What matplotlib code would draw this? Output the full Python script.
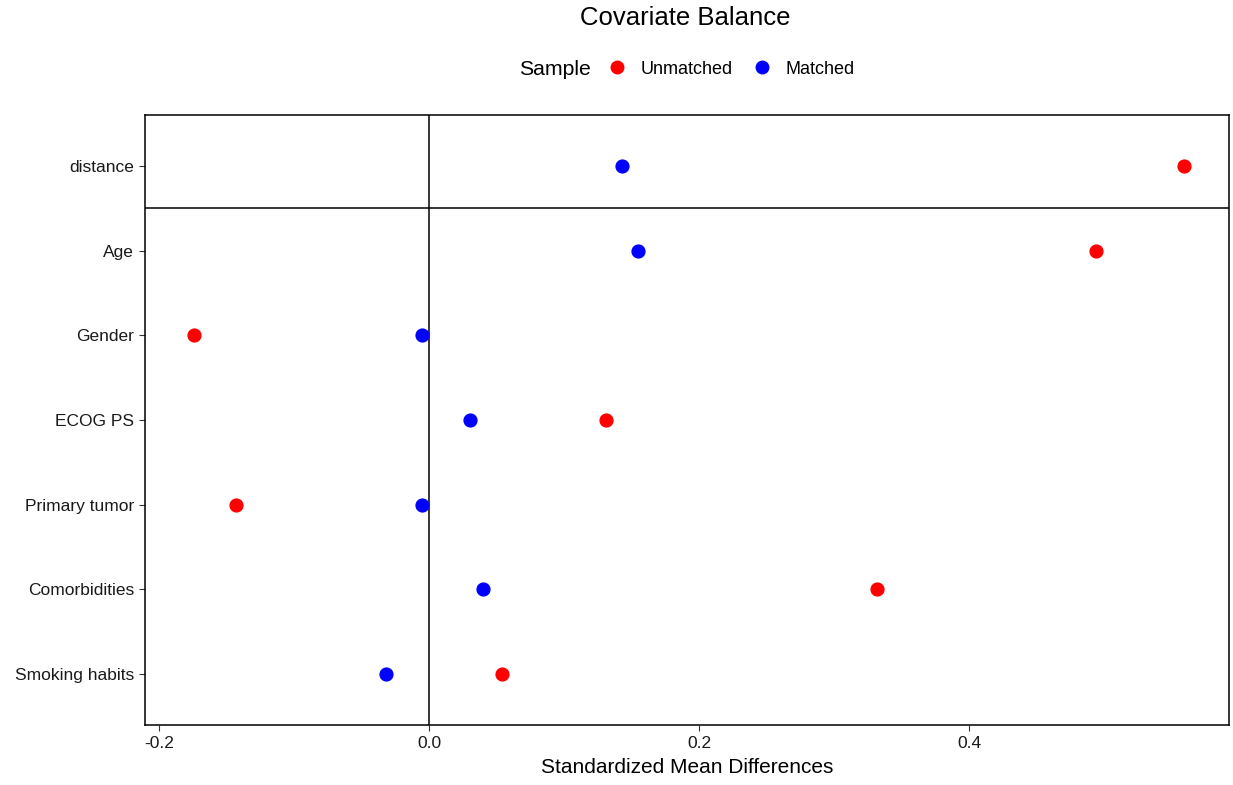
import numpy as np
import matplotlib.pyplot as plt
from matplotlib.lines import Line2D

plt.rcParams['font.family'] = ['Liberation Sans', 'DejaVu Sans']

# Covariáveis (de cima para baixo)
covariates = ['distance', 'Age', 'Gender', 'ECOG PS', 'Primary tumor',
              'Comorbidities', 'Smoking habits']
unmatched = [0.559, 0.494, -0.174, 0.131, -0.143, 0.332, 0.054]
matched = [0.143, 0.155, -0.005, 0.030, -0.005, 0.040, -0.032]

fig = plt.figure(figsize=(12.33, 7.85), dpi=100)
ax = fig.add_axes([0.1176, 0.0764, 0.8792, 0.7771])

y = np.arange(len(covariates))[::-1] + 1

ax.axvline(0, color='black', linewidth=1.1, zorder=1)
ax.axhline(len(covariates) - 0.5, color='black', linewidth=1.1, zorder=1)

ax.scatter(unmatched, y, s=85, color='#ff0000', zorder=3, label='Unmatched')
ax.scatter(matched, y, s=85, color='#0000ff', zorder=3, label='Matched')

ax.set_xlim(-0.2104, 0.5926)
ax.set_ylim(0.4, len(covariates) + 0.6)
ax.set_yticks(y)
ax.set_yticklabels(covariates, fontsize=12.5, color='#1a1a1a')
ax.set_xticks([-0.2, 0.0, 0.2, 0.4])
ax.set_xticklabels(['-0.2', '0.0', '0.2', '0.4'], fontsize=12.5, color='#1a1a1a')
ax.tick_params(length=4, width=0.8, color='#333333', pad=4)
for s in ax.spines.values():
    s.set_linewidth(1.1)
    s.set_color('black')

ax.set_xlabel('Standardized Mean Differences', fontsize=15, labelpad=5)

fig.text(0.556, 0.977, 'Covariate Balance', fontsize=18.5, ha='center', va='center')

# Legenda horizontal no topo
fig.text(0.421, 0.912, 'Sample', fontsize=15.3, ha='left', va='center')
handles = [Line2D([], [], marker='o', linestyle='', color='#ff0000', markersize=9),
           Line2D([], [], marker='o', linestyle='', color='#0000ff', markersize=9)]
fig.legend(handles, ['Unmatched', 'Matched'], ncol=2, frameon=False,
           loc='center left', bbox_to_anchor=(0.4765, 0.912), fontsize=13,
           handletextpad=0.55, columnspacing=0.85, handlelength=1.5)

plt.savefig('out.png', dpi=100)
